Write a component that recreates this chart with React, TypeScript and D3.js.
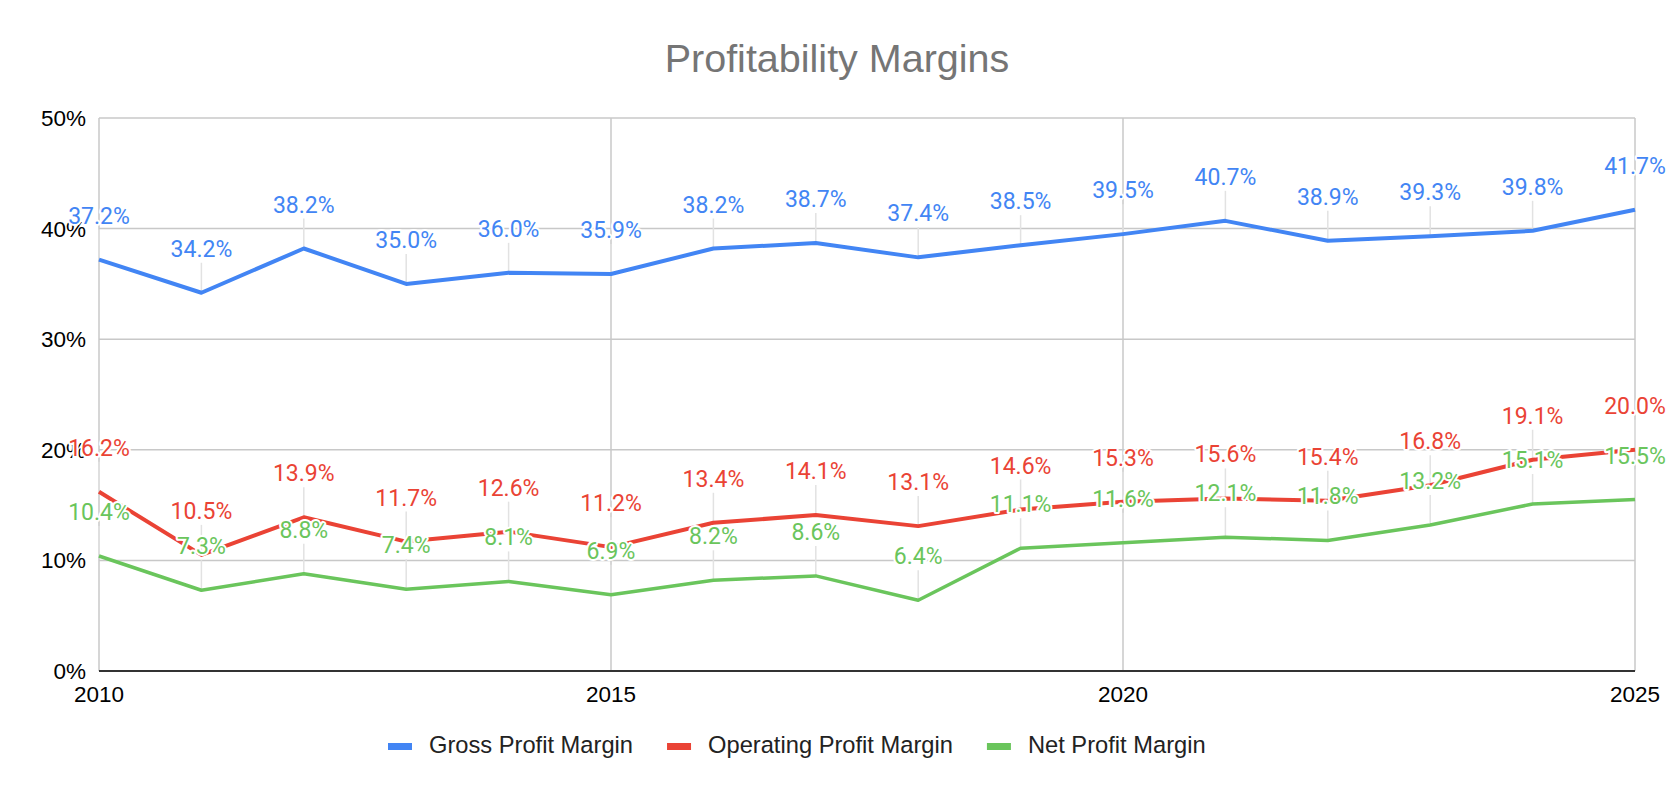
import React, { useEffect, useRef } from "react";
import * as d3 from "d3";

const years = [2010, 2011, 2012, 2013, 2014, 2015, 2016, 2017, 2018, 2019, 2020, 2021, 2022, 2023, 2024, 2025];
const grossMargin = [37.2, 34.2, 38.2, 35.0, 36.0, 35.9, 38.2, 38.7, 37.4, 38.5, 39.5, 40.7, 38.9, 39.3, 39.8, 41.7];
const operatingMargin = [16.2, 10.5, 13.9, 11.7, 12.6, 11.2, 13.4, 14.1, 13.1, 14.6, 15.3, 15.6, 15.4, 16.8, 19.1, 20.0];
const netMargin = [10.4, 7.3, 8.8, 7.4, 8.1, 6.9, 8.2, 8.6, 6.4, 11.1, 11.6, 12.1, 11.8, 13.2, 15.1, 15.5];
const seriesNames = ["Gross Profit Margin", "Operating Profit Margin", "Net Profit Margin"];
const seriesColors = ["#4285F4", "#EA4335", "#6AC55C"];
const yTicks = [0, 10, 20, 30, 40, 50];
const xTicks = [2010, 2015, 2020, 2025];
const title = "Profitability Margins";

const W = 1674;
const H = 798;
const M = { left: 99, right: 1635, top: 118, bottom: 671 };

export default function App() {
  const ref = useRef<SVGSVGElement | null>(null);

  useEffect(() => {
    const svg = d3.select(ref.current);
    svg.selectAll("*").remove();

    const x = d3.scaleLinear().domain([2010, 2025]).range([M.left, M.right]);
    const y = d3.scaleLinear().domain([0, 50]).range([M.bottom, M.top]);

    // title
    svg.append("text")
      .attr("x", W / 2)
      .attr("y", 72)
      .attr("text-anchor", "middle")
      .attr("font-family", "Liberation Sans, Arial, sans-serif")
      .attr("font-size", 39.5)
      .attr("fill", "#757575")
      .text(title);

    // horizontal grid
    const g = svg.append("g");
    g.selectAll("line.h")
      .data(yTicks.filter((t) => t > 0))
      .join("line")
      .attr("x1", M.left)
      .attr("x2", M.right)
      .attr("y1", (d) => y(d))
      .attr("y2", (d) => y(d))
      .attr("stroke", "#c8c8c8")
      .attr("stroke-width", 1.5);
    // vertical grid
    g.selectAll("line.v")
      .data(xTicks)
      .join("line")
      .attr("x1", (d) => x(d))
      .attr("x2", (d) => x(d))
      .attr("y1", M.top)
      .attr("y2", M.bottom)
      .attr("stroke", "#c8c8c8")
      .attr("stroke-width", 1.5);

    // y tick labels
    svg.append("g")
      .selectAll("text")
      .data(yTicks)
      .join("text")
      .attr("x", M.left - 13)
      .attr("y", (d) => y(d) + 8)
      .attr("text-anchor", "end")
      .attr("font-family", "Liberation Sans, Arial, sans-serif")
      .attr("font-size", 22.5)
      .attr("fill", "#000")
      .text((d) => `${d}%`);

    // x tick labels
    svg.append("g")
      .selectAll("text")
      .data(xTicks)
      .join("text")
      .attr("x", (d) => x(d))
      .attr("y", 702)
      .attr("text-anchor", "middle")
      .attr("font-family", "Liberation Sans, Arial, sans-serif")
      .attr("font-size", 22.5)
      .attr("fill", "#000")
      .text((d) => String(d));

    const all = [grossMargin, operatingMargin, netMargin];

    // leader lines
    const leaders = svg.append("g");
    all.forEach((vals) => {
      leaders.selectAll(null)
        .data(vals)
        .join("line")
        .attr("x1", (_, i) => x(years[i]))
        .attr("x2", (_, i) => x(years[i]))
        .attr("y1", (d) => y(d))
        .attr("y2", (d) => y(d) - 30)
        .attr("stroke", "#e2e2e2")
        .attr("stroke-width", 1.5);
    });

    // x axis baseline
    svg.append("line")
      .attr("x1", M.left)
      .attr("x2", M.right)
      .attr("y1", y(0))
      .attr("y2", y(0))
      .attr("stroke", "#333")
      .attr("stroke-width", 2);

    // lines
    const line = d3.line<number>()
      .x((_, i) => x(years[i]))
      .y((d) => y(d));
    all.forEach((vals, si) => {
      svg.append("path")
        .attr("d", line(vals) as string)
        .attr("fill", "none")
        .attr("stroke", seriesColors[si])
        .attr("stroke-width", si === 2 ? 3.5 : 4)
        .attr("stroke-linejoin", "round");
    });

    // data labels
    all.forEach((vals, si) => {
      svg.append("g")
        .selectAll("text")
        .data(vals)
        .join("text")
        .attr("x", (_, i) => x(years[i]))
        .attr("y", (d) => y(d) - 36)
        .attr("text-anchor", "middle")
        .attr("font-family", "Roboto, sans-serif")
        .attr("font-size", 23)
        .attr("fill", seriesColors[si])
        .attr("stroke", "#fff")
        .attr("stroke-width", 4)
        .attr("stroke-linejoin", "round")
        .attr("paint-order", "stroke")
        .text((d) => `${d.toFixed(1)}%`);
    });

    // legend
    const legend = svg.append("g");
    let lx = 388;
    seriesNames.forEach((name, i) => {
      legend.append("rect")
        .attr("x", lx)
        .attr("y", 743)
        .attr("width", 24)
        .attr("height", 7)
        .attr("fill", seriesColors[i]);
      const t = legend.append("text")
        .attr("x", lx + 41)
        .attr("y", 753)
        .attr("font-family", "Liberation Sans, Arial, sans-serif")
        .attr("font-size", 23.7)
        .attr("fill", "#222")
        .text(name);
      const w = (t.node() as SVGTextElement).getComputedTextLength();
      lx = lx + 41 + w + 34;
    });
  }, []);

  return (
    <svg
      ref={ref}
      width={W}
      height={H}
      style={{ position: "absolute", left: 0, top: 0, background: "#fff", display: "block" }}
    />
  );
}
